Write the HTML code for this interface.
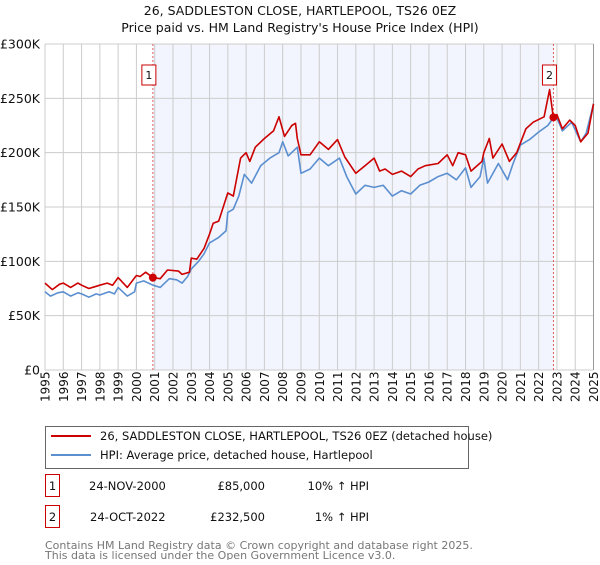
<!DOCTYPE html>
<html><head><meta charset="utf-8"><style>
body{margin:0;background:#fff;font-family:"Liberation Sans","DejaVu Sans",sans-serif}
svg text{font-family:"DejaVu Sans","Liberation Sans",sans-serif}
</style></head><body>
<svg id="chart" width="600" height="560" viewBox="0 0 600 560">
<text x="300" y="15" text-anchor="middle" font-size="12.5" fill="#111">26, SADDLESTON CLOSE, HARTLEPOOL, TS26 0EZ</text>
<text x="300" y="32" text-anchor="middle" font-size="12.5" fill="#111">Price paid vs. HM Land Registry's House Price Index (HPI)</text>
<g id="plot"></g>
<g>
<rect x="45.5" y="426.5" width="423" height="42" fill="#fff" stroke="#666"/>
<line x1="51" y1="436" x2="91" y2="436" stroke="#cc0000" stroke-width="2"/>
<text x="100" y="440" font-size="11.5" fill="#111">26, SADDLESTON CLOSE, HARTLEPOOL, TS26 0EZ (detached house)</text>
<line x1="51" y1="455" x2="91" y2="455" stroke="#5b8fd0" stroke-width="2"/>
<text x="100" y="459" font-size="11.5" fill="#111">HPI: Average price, detached house, Hartlepool</text>
</g>
<g font-size="11.5" fill="#111">
<rect x="45.5" y="474.5" width="14" height="22" fill="#fff" stroke="#cc0000"/>
<text x="52.5" y="490" text-anchor="middle">1</text>
<text x="89" y="490">24-NOV-2000</text>
<text x="265" y="490" text-anchor="end">£85,000</text>
<text x="369" y="490" text-anchor="end">10% ↑ HPI</text>
<rect x="45.5" y="505.5" width="14" height="22" fill="#fff" stroke="#cc0000"/>
<text x="52.5" y="521" text-anchor="middle">2</text>
<text x="90" y="521">24-OCT-2022</text>
<text x="265" y="521" text-anchor="end">£232,500</text>
<text x="369" y="521" text-anchor="end">1% ↑ HPI</text>
</g>
<text x="45" y="549" font-size="11" fill="#777">Contains HM Land Registry data © Crown copyright and database right 2025.</text>
<text x="45" y="559" font-size="11" fill="#777">This data is licensed under the Open Government Licence v3.0.</text>
</svg>
<script>
const yTicks=[0,50,100,150,200,250,300];
const yTickLabels=["£0","£50K","£100K","£150K","£200K","£250K","£300K"];
const years=[1995,1996,1997,1998,1999,2000,2001,2002,2003,2004,2005,2006,2007,2008,2009,2010,2011,2012,2013,2014,2015,2016,2017,2018,2019,2020,2021,2022,2023,2024,2025];
const hpiT=[1995,1995.3,1995.7,1996,1996.4,1996.8,1997,1997.4,1997.8,1998,1998.5,1998.8,1999,1999.5,1999.9,2000,2000.4,2000.9,2001.3,2001.8,2002.2,2002.5,2002.8,2003,2003.4,2003.7,2004,2004.5,2004.9,2005,2005.3,2005.6,2005.9,2006.3,2006.8,2007.3,2007.8,2008,2008.3,2008.8,2009,2009.5,2010,2010.5,2011.1,2011.5,2012,2012.5,2013,2013.5,2014,2014.5,2015,2015.5,2016,2016.5,2017,2017.5,2018,2018.3,2018.8,2019,2019.2,2019.8,2020.3,2020.6,2021,2021.5,2022,2022.5,2022.8,2023,2023.3,2023.8,2024.3,2024.6,2025];
const hpiV=[72,68,71,72,68,71,70,67,70,69,72,70,76,68,72,80,82,78,76,84,83,80,86,93,100,107,117,122,128,145,148,160,180,172,188,195,200,210,197,205,181,185,195,188,195,178,162,170,168,170,160,165,162,170,173,178,181,175,186,168,178,195,172,190,175,190,207,212,219,225,232,232,220,228,210,218,245];
const ppT=[1995,1995.4,1995.8,1996,1996.4,1996.8,1997,1997.4,1997.8,1998,1998.4,1998.7,1999,1999.5,2000,2000.2,2000.5,2000.9,2001.3,2001.7,2002.3,2002.5,2002.9,2003,2003.3,2003.7,2004,2004.2,2004.5,2005,2005.3,2005.7,2006,2006.2,2006.5,2007,2007.5,2007.8,2008.1,2008.5,2008.7,2008.8,2009,2009.5,2010,2010.5,2011,2011.4,2012,2012.5,2013,2013.3,2013.6,2014,2014.5,2015,2015.4,2015.8,2016.5,2017,2017.3,2017.6,2018,2018.3,2018.9,2019,2019.3,2019.5,2020,2020.4,2020.8,2021.3,2021.7,2022.3,2022.6,2022.8,2023,2023.3,2023.7,2024,2024.3,2024.7,2025];
const ppV=[80,74,79,80,76,80,78,75,77,78,80,78,85,76,87,86,90,85,84,92,91,88,90,103,102,112,125,135,137,163,160,195,200,192,205,213,220,233,215,225,227,213,198,198,210,203,212,196,181,188,195,183,185,180,183,178,185,188,190,198,188,200,198,183,192,200,213,195,208,192,200,222,228,233,258,232.5,235,222,230,225,210,218,245];
const saleT=[2000.9,2022.81];
const saleV=[85,232.5];
const saleLabels=["1","2"];

const L=45,R=593.5,T=44,B=370;
const X=t=>L+(t-1995)/30*(R-L);
const Y=v=>B-v/300*(B-T);
const NS="http://www.w3.org/2000/svg";
const g=document.getElementById('plot');
function mk(tag,at){const e=document.createElementNS(NS,tag);for(const k in at)e.setAttribute(k,at[k]);g.appendChild(e);return e;}
let shade=mk('rect',{x:X(saleT[0]),y:T,width:X(saleT[1])-X(saleT[0]),height:B-T,fill:'#f2f5fd'});


years.forEach(yr=>{
 const l=mk('line',{x1:X(yr),x2:X(yr),y1:T,y2:B,stroke:'#ccc','stroke-width':1});
 
 
 const t=mk('text',{transform:`translate(${X(yr)+4.5},${B+32}) rotate(-90)`,'font-size':12,fill:'#111'});
 t.textContent=yr;
 
 
});
yTicks.forEach((v,i)=>{
 const l=mk('line',{x1:L,x2:R,y1:Y(v),y2:Y(v),stroke:'#ccc','stroke-width':1});
 
 
 const t=mk('text',{x:L-5,y:Y(v)+4.5,'text-anchor':'end','font-size':12.5,fill:'#111'});
 t.textContent=yTickLabels[i];
 
 
});
let rb=mk('line',{x1:R,x2:R,y1:T,y2:B,stroke:'#999','stroke-width':1});


saleT.forEach((t,i)=>{
 const l=mk('line',{x1:X(t),x2:X(t),y1:T,y2:B,stroke:'#e06060','stroke-width':1,'stroke-dasharray':'2,2'});
 
 
 const r=mk('rect',{x:X(t)-11,y:65,width:14,height:20,fill:'#fff',stroke:'#cc0000'});
 
 
 const tx=mk('text',{x:X(t)-4,y:79,'text-anchor':'middle','font-size':11,fill:'#111'});
 tx.textContent=saleLabels[i];
 
 
});
function path(ts,vs){return ts.map((t,i)=>(i?'L':'M')+X(t).toFixed(1)+','+Y(vs[i]).toFixed(1)).join('');}
const hp=mk('path',{d:path(hpiT,hpiV),fill:'none',stroke:'#5b8fd0','stroke-width':1.6,'stroke-linejoin':'round'});


const pp=mk('path',{d:path(ppT,ppV),fill:'none',stroke:'#cc0000','stroke-width':1.6,'stroke-linejoin':'round'});


saleT.forEach((t,i)=>{
 const c=mk('circle',{cx:X(t),cy:Y(saleV[i]),r:4,fill:'#cc0000'});
 
 
});
</script>
</body></html>
